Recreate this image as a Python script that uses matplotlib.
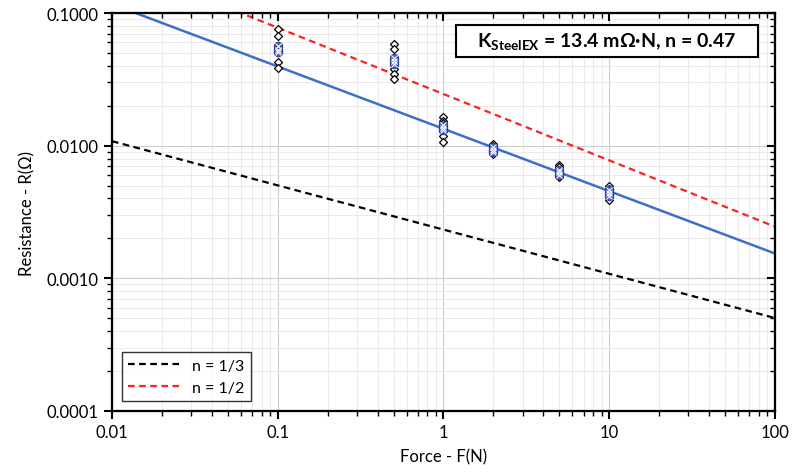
import matplotlib
matplotlib.use("Agg")
import matplotlib.pyplot as plt
from matplotlib.patches import Rectangle
import numpy as np

plt.rcParams['font.family'] = ['Lato', 'DejaVu Sans']
plt.rcParams['mathtext.fontset'] = 'custom'
plt.rcParams['mathtext.rm'] = 'Lato'
plt.rcParams['mathtext.bf'] = 'Lato:bold'

# Measured data (diamonds)
forces = [0.1, 0.5, 1, 2, 5, 10]
r_meas = {
    0.1: [0.0757, 0.0671, 0.0564, 0.0536, 0.0508, 0.0428, 0.0386],
    0.5: [0.0584, 0.0536, 0.0450, 0.0428, 0.0379, 0.0347, 0.0319],
    1:   [0.0164, 0.0154, 0.0147, 0.0138, 0.0130, 0.0119, 0.0107],
    2:   [0.0103, 0.0099, 0.0095, 0.0090, 0.0086],
    5:   [0.00720, 0.00690, 0.00645, 0.00610, 0.00580],
    10:  [0.00500, 0.00475, 0.00448, 0.00420, 0.00390],
}
# Highlighted (blue) points
r_blue = {
    0.1: [0.0560, 0.0530, 0.0505],
    0.5: [0.0455, 0.0435, 0.0415],
    1:   [0.0144, 0.0137, 0.0131],
    2:   [0.0097, 0.0093, 0.0089],
    5:   [0.0066, 0.0063, 0.0060],
    10:  [0.0046, 0.0044, 0.0042],
}
# Fits / reference lines: R = K * F^-n
K_fit, n_fit = 0.0134, 0.47
K_third, n_third = 0.00233, 1/3
K_half, n_half = 0.0245, 1/2

xticks = [0.01, 0.1, 1, 10, 100]
xticklabels = ['0.01', '0.1', '1', '10', '100']
yticks = [0.0001, 0.001, 0.01, 0.1]
yticklabels = ['0.0001', '0.0010', '0.0100', '0.1000']

fig = plt.figure(figsize=(7.97, 4.77), dpi=100)
ax = fig.add_axes([0.1405, 0.1363, 0.8319, 0.8343])
ax.set_xscale('log')
ax.set_yscale('log')
ax.set_xlim(0.01, 100)
ax.set_ylim(0.0001, 0.1)

F = np.logspace(-2, 2, 200)
ax.plot(F, K_third * F**(-n_third), ls=(0, (3, 2)), color='black', lw=1.6, label='n = 1/3', zorder=3)
ax.plot(F, K_half * F**(-n_half), ls=(0, (3, 2)), color='#ff2020', lw=1.6, label='n = 1/2', zorder=3)
ax.plot(F, K_fit * F**(-n_fit), color='#3a70c8', lw=1.8, zorder=3)

for f in forces:
    vals = r_meas[f]
    ax.plot([f]*len(vals), vals, ls='none', marker='D', ms=4.5, mfc='white', mec='black', mew=0.9, zorder=4)
    bv = r_blue[f]
    ax.plot([f]*len(bv), bv, ls='none', marker='o', ms=6, mfc='#4a62c8', mec='#2a3ea0', mew=0.8, zorder=5)
    ax.plot([f]*len(bv), bv, ls='none', marker='x', ms=4, mec='white', mew=0.8, zorder=6)

ax.grid(True, which='major', color='#cccccc', lw=0.8)
ax.grid(True, which='minor', color='#e6e6e6', lw=0.6)
ax.set_axisbelow(True)

ax.set_xticks(xticks)
ax.set_xticklabels(xticklabels)
ax.set_yticks(yticks)
ax.set_yticklabels(yticklabels)
ax.tick_params(which='major', direction='out', length=6, width=1.5, labelsize=12)
ax.tick_params(which='minor', direction='out', length=3.5, width=1.0)
for s in ax.spines.values():
    s.set_linewidth(1.5)

# mirrored ticks on top/right, pointing inward
axt = ax.twiny()
axt.set_xscale('log')
axt.set_xlim(ax.get_xlim())
axt.set_xticks(xticks)
axt.tick_params(which='major', direction='in', length=6, width=1.5, labeltop=False, color='black')
axt.tick_params(which='minor', direction='in', length=3.5, width=1.0, color='black')
axr = ax.twinx()
axr.set_yscale('log')
axr.set_ylim(ax.get_ylim())
axr.set_yticks(yticks)
axr.tick_params(which='major', direction='in', length=6, width=1.5, labelright=False, color='black')
axr.tick_params(which='minor', direction='in', length=3.5, width=1.0, color='black')
for a in (axt, axr):
    a.grid(False)
    for s in a.spines.values():
        s.set_linewidth(1.5)

ax.set_xlabel('Force - F(N)', fontsize=12, labelpad=6)
ax.set_ylabel('Resistance - R(Ω)', fontsize=12, labelpad=8)

leg = ax.legend(loc='lower left', fontsize=11.5, frameon=True, fancybox=False,
                edgecolor='black', handlelength=3.2, borderaxespad=0.6)
leg.get_frame().set_linewidth(1.0)

axr.add_patch(Rectangle((0.519, 0.889), 0.455, 0.081, transform=ax.transAxes,
                        fc='white', ec='black', lw=1.5, zorder=9, clip_on=False))
axr.text(0.7465, 0.929, r'$\mathbf{K}_{\mathbf{SteelEX}}$ = 13.4 mΩ·N, n = 0.47',
         transform=ax.transAxes, ha='center', va='center', fontsize=14, fontweight='bold',
         zorder=10)

fig.savefig('out.png', dpi=100)
